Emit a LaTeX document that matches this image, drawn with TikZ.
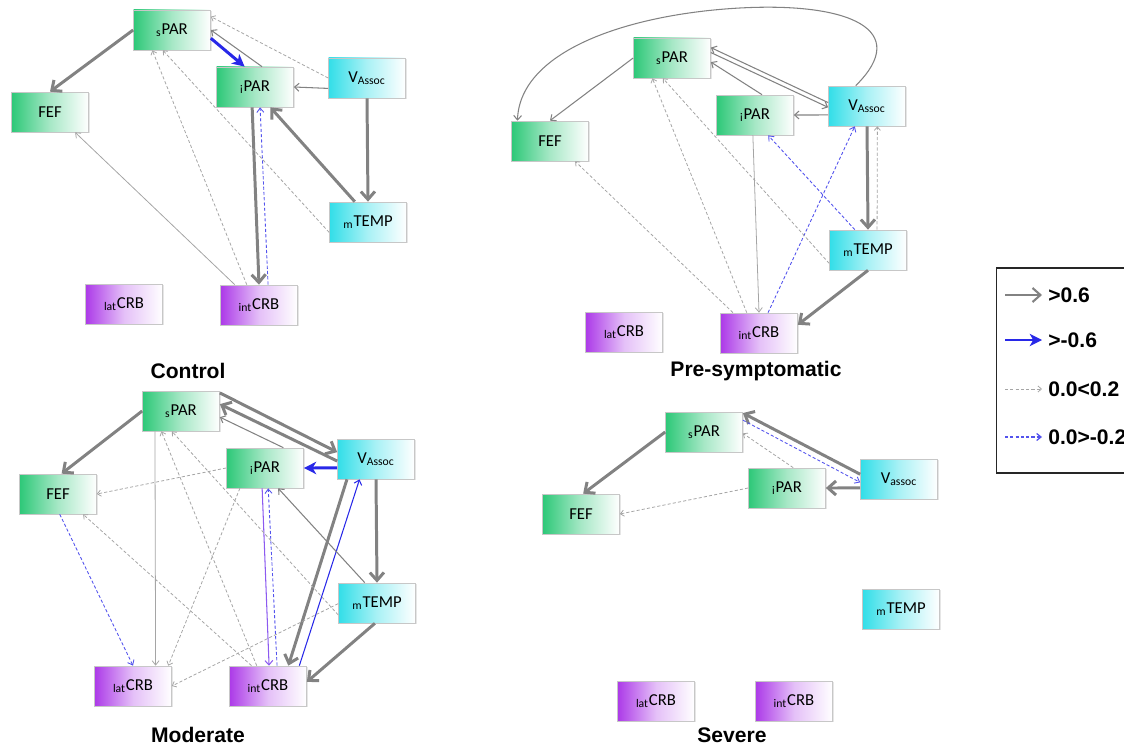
\documentclass[tikz,border=0pt]{standalone}
\usepackage{fontspec}
\setmainfont{Carlito}
\newfontfamily\headfont{Liberation Sans}
\usetikzlibrary{arrows.meta,shadows}
\definecolor{pargreen}{RGB}{45,200,120}
\definecolor{viscyan}{RGB}{50,222,232}
\definecolor{crbpurple}{RGB}{172,58,232}
\definecolor{edgegray}{RGB}{130,130,130}
\definecolor{weakgray}{RGB}{165,165,165}
\definecolor{edgeblue}{RGB}{40,40,232}
\definecolor{edgeviolet}{RGB}{140,90,240}

\begin{document}
\begin{tikzpicture}[
  x=0.02cm, y=-0.02cm,
  region/.style={rectangle, draw=black!22, line width=0.4pt, minimum width=1.54cm, minimum height=0.8cm, inner sep=0pt,
    font=\fontsize{9.5}{10}\selectfont, drop shadow={shadow xshift=0.6pt, shadow yshift=-0.6pt, opacity=0.2}},
  par/.style={region, left color=pargreen, right color=white, middle color=pargreen!42!white},
  vis/.style={region, left color=viscyan, right color=white, middle color=viscyan!42!white},
  crb/.style={region, left color=crbpurple, right color=white, middle color=crbpurple!32!white},
  title/.style={font=\headfont\fontsize{12}{14}\selectfont\bfseries, inner sep=1pt},
  legtext/.style={anchor=west, inner sep=3.4pt, font=\headfont\fontsize{12}{14}\selectfont\bfseries},
  strong/.style={draw=edgegray, line width=1.7pt, -{Straight Barb[length=4.5pt, width=8pt]}},
  strongneg/.style={draw=edgeblue, line width=1.7pt, -{Stealth[length=7pt, width=7pt, inset=2pt]}},
  moderate/.style={draw=edgegray, line width=0.6pt, -{Straight Barb[length=2.5pt, width=4.5pt]}},
  faint/.style={draw=weakgray, line width=0.45pt, -{Straight Barb[length=2.5pt, width=4pt]}},
  modneg/.style={draw=edgeblue, line width=0.6pt, -{Straight Barb[length=2.5pt, width=4.5pt]}},
  modviolet/.style={draw=edgeviolet, line width=0.6pt, -{Straight Barb[length=2.5pt, width=4.5pt]}},
  weak/.style={draw=weakgray, line width=0.45pt, dash pattern=on 1.8pt off 1.2pt, -{Straight Barb[length=2pt, width=3.5pt]}},
  weakneg/.style={draw=edgeblue!80!white, line width=0.5pt, dash pattern=on 1.8pt off 1.2pt, -{Straight Barb[length=2.5pt, width=4pt]}}
]
\useasboundingbox (0,0) rectangle (1124,746);
\clip (0,0) rectangle (1124,746);

% Control
\node[par] (c_spar) at (172,30) {\textsubscript{s}PAR};
\node[par] (c_ipar) at (255,87) {\textsubscript{i}PAR};
\node[vis] (c_vas) at (367,78) {V\textsubscript{Assoc}};
\node[par] (c_fef) at (50,112) {FEF};
\node[vis] (c_mtemp) at (368,222) {\textsubscript{m}TEMP};
\node[crb] (c_lat) at (124,304) {\textsubscript{lat}CRB};
\node[crb] (c_int) at (259,305) {\textsubscript{int}CRB};
\node[title] (c_title) at (188,371) {Control};

\draw[strong] (c_spar.west) -- (c_fef.north);
\draw[strongneg] (c_spar.-12) -- (c_ipar.117);
\draw[moderate] (c_ipar.71) -- (c_spar.east);
\draw[weak] (c_vas.west) -- (c_spar.19);
\draw[moderate] (c_vas.195) -- (c_ipar.east);
\draw[strong] (c_vas.south) -- (c_mtemp.north);
\draw[strong] (c_mtemp.123) -- (c_ipar.-53);
\draw[strong] (c_ipar.-98) -- (c_int.north);
\draw[weakneg] (c_int.66) -- (c_ipar.-76);
\draw[faint] (c_int.140) -- (c_fef.-39);
\draw[weak] (c_int.121) -- (c_spar.-134);
\draw[weak] (c_mtemp.195) -- (c_spar.-114);

% Pre-symptomatic
\node[par] (p_spar) at (672,58) {\textsubscript{s}PAR};
\node[par] (p_ipar) at (755,115) {\textsubscript{i}PAR};
\node[vis] (p_vas) at (867,106) {V\textsubscript{Assoc}};
\node[par] (p_fef) at (550,141) {FEF};
\node[vis] (p_mtemp) at (868,250) {\textsubscript{m}TEMP};
\node[crb] (p_lat) at (624,332) {\textsubscript{lat}CRB};
\node[crb] (p_int) at (759,333) {\textsubscript{int}CRB};
\node[title] (p_title) at (756,371) {Pre-symptomatic};

\draw[moderate] (p_vas.119) .. controls (912,30) and (850,2) .. (740,8)
  .. controls (630,14) and (520,50) .. (p_fef.148);
\draw[moderate] (p_spar.west) -- (p_fef.north);
\draw[moderate] (p_vas.175) -- (p_spar.15);
\draw[moderate] (p_spar.8) -- (p_vas.182);
\draw[moderate] (p_ipar.71) -- (p_spar.-6);
\draw[moderate] (p_vas.193) -- (p_ipar.east);
\draw[strong] (p_vas.south) -- (p_mtemp.north);
\draw[weak] (p_mtemp.66) -- (p_vas.-63);
\draw[weakneg] (p_mtemp.123) -- (p_ipar.-57);
\draw[weakneg] (p_int.66) -- (p_vas.-121);
\draw[faint] (p_ipar.-96) -- (p_int.north);
\draw[weak] (p_mtemp.199) -- (p_spar.-114);
\draw[weak] (p_int.121) -- (p_spar.-134);
\draw[weak] (p_int.142) -- (p_fef.-39);
\draw[strong] (p_mtemp.south) -- (p_int.12);

% Moderate
\node[par] (m_spar) at (181,411) {\textsubscript{s}PAR};
\node[par] (m_ipar) at (265,468) {\textsubscript{i}PAR};
\node[vis] (m_vas) at (376,459) {V\textsubscript{Assoc}};
\node[par] (m_fef) at (58,494) {FEF};
\node[vis] (m_mtemp) at (377,603) {\textsubscript{m}TEMP};
\node[crb] (m_lat) at (133,686) {\textsubscript{lat}CRB};
\node[crb] (m_int) at (268,686) {\textsubscript{int}CRB};
\node[title] (m_title) at (198,735) {Moderate};

\draw[strong] (m_spar.west) -- (m_fef.80);
\draw[strong] (m_spar.25) -- (m_vas.170);
\draw[strong] (m_vas.183) -- (m_spar.10);
\draw[moderate] (m_ipar.48) -- (m_spar.-9);
\draw[strongneg] (m_vas.193) -- (m_ipar.east);
\draw[strong] (m_vas.south) -- (m_mtemp.north);
\draw[strong] (m_vas.-145) -- (m_int.45);
\draw[modneg] (m_int.33) -- (m_vas.-129);
\draw[modviolet] (m_ipar.-98) -- (m_int.87);
\draw[weakneg] (m_int.66) -- (m_ipar.-81);
\draw[moderate] (m_mtemp.121) -- (m_ipar.-57);
\draw[strong] (m_mtemp.-96) -- (m_int.6);
\draw[weak] (m_mtemp.181) -- (m_lat.east);
\draw[weak] (m_int.119) -- (m_spar.-134);
\draw[weak] (m_mtemp.197) -- (m_spar.-114);
\draw[faint] (m_spar.-142) -- (m_lat.42);
\draw[weakneg] (m_fef.-85) -- (m_lat.north);
\draw[weak] (m_ipar.west) -- (m_fef.east);
\draw[weak] (m_ipar.-141) -- (m_lat.30);
\draw[weak] (m_int.129) -- (m_fef.-39);

% Severe
\node[par] (s_spar) at (704,432) {\textsubscript{s}PAR};
\node[par] (s_ipar) at (787,488) {\textsubscript{i}PAR};
\node[vis] (s_vas) at (899,479) {V\textsubscript{assoc}};
\node[par] (s_fef) at (581,514) {FEF};
\node[vis] (s_mtemp) at (901,609) {\textsubscript{m}TEMP};
\node[crb] (s_lat) at (656,701) {\textsubscript{lat}CRB};
\node[crb] (s_int) at (794,701) {\textsubscript{int}CRB};
\node[title] (s_title) at (732,735) {Severe};

\draw[strong] (s_spar.west) -- (s_fef.84);
\draw[strong] (s_vas.173) -- (s_spar.26);
\draw[weakneg] (s_spar.17) -- (s_vas.185);
\draw[weak] (s_ipar.73) -- (s_spar.-2);
\draw[strong] (s_vas.193) -- (s_ipar.east);
\draw[weak] (s_ipar.west) -- (s_fef.east);

% legend
\node[draw=black!85, line width=0.6pt, minimum width=2.88cm, minimum height=4.1cm, inner sep=0pt] (legend) at (1068,370.5) {};
\coordinate (l_strong) at (1005,295);
\coordinate (l_strongneg) at (1005,340);
\coordinate (l_weak) at (1005,389);
\coordinate (l_weakneg) at (1005,437);
\node[legtext] (t_strong) at (1042,295) {>0.6};
\node[legtext] (t_strongneg) at (1042,340) {>-0.6};
\node[legtext] (t_weak) at (1042,389) {0.0<0.2};
\node[legtext] (t_weakneg) at (1042,437) {0.0>-0.2};
\draw[strong, line width=1.2pt] (l_strong) -- (t_strong.west);
\draw[strongneg, line width=1.2pt] (l_strongneg) -- (t_strongneg.west);
\draw[weak] (l_weak) -- (t_weak.west);
\draw[weakneg, line width=0.7pt] (l_weakneg) -- (t_weakneg.west);
\end{tikzpicture}
\end{document}
